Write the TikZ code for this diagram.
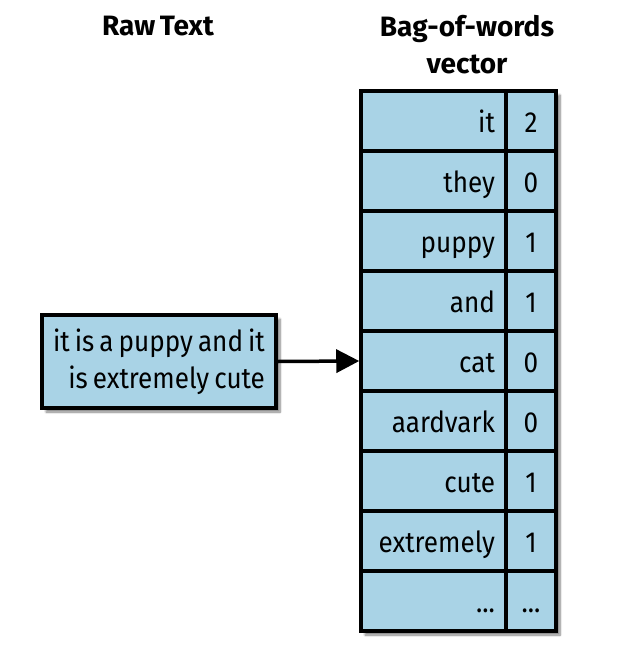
\documentclass[tikz,border=0pt]{standalone}
\usepackage{fontspec}
\setmainfont{Fira Sans}[FakeStretch=0.9]
\newfontfamily\ttlfont{Fira Sans}[WordSpace=0.7]
\usetikzlibrary{arrows.meta,shadows.blur}
\definecolor{cellblue}{HTML}{A9D3E6}
\newcommand\elp{...}
\newcommand\tightsp{\spaceskip=5pt plus 1pt minus 1pt\relax}
\tikzset{
  cell/.style={draw=black, line width=3.5pt, fill=cellblue, minimum height=60pt, inner sep=0pt,
    font=\fontsize{29}{36}\selectfont, text height=26pt, text depth=4pt},
  wordcell/.style={cell, minimum width=145pt, text width=123pt, align=right},
  numcell/.style={cell, minimum width=50pt, align=center},
  title/.style={font=\ttlfont\fontsize{28}{37}\bfseries\selectfont, align=center},
  frame/.style={fill=cellblue, blur shadow={shadow xshift=4pt, shadow yshift=-4pt, shadow blur steps=8, shadow opacity=50}},
}
\begin{document}
\begin{tikzpicture}[x=1pt,y=-1pt]
\useasboundingbox (0,0) rectangle (617,650);
\node[title] (t1) at (158,26) {Raw Text};
\node[title] (t2) at (467,45) {Bag-of-words\\vector};
\node[frame, minimum width=195pt, minimum height=540pt, inner sep=0pt] (tbl) at (458.5,361) {};
\foreach \w/\n [count=\i from 0] in {it/2,they/0,puppy/1,and/1,cat/0,aardvark/0,cute/1,extremely/1,\elp/\elp}{
  \node[wordcell] (w\i) at (433.5,{121+60*\i}) {\w};
  \node[numcell] (n\i) at (531,{121+60*\i}) {\n};
}
\node[frame, draw=black, line width=3.5pt, minimum width=234pt, minimum height=93pt, inner sep=0pt,
      align=right, font=\fontsize{29}{37}\selectfont] (raw) at (159,361.5)
      {\tightsp it is a puppy and it\\\tightsp is extremely cute};
\draw[line width=3.5pt, -{Triangle[length=23pt,width=23pt]}] (raw.east) -- (w4.west);
\end{tikzpicture}
\end{document}
